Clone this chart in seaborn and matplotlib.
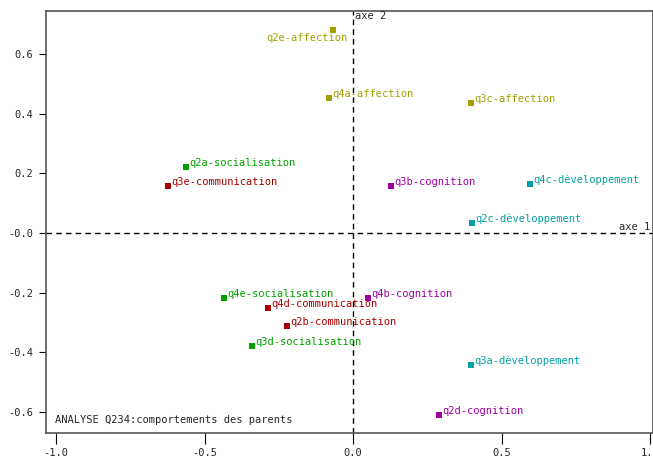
import matplotlib
matplotlib.use("Agg")
import matplotlib.pyplot as plt
import seaborn as sns
import pandas as pd

labels = ["q2e-affection", "q4a-affection", "q3c-affection",
          "q2a-socialisation", "q3e-communication", "q3b-cognition",
          "q4c-dèveloppement", "q2c-dèveloppement", "q4e-socialisation",
          "q4d-communication", "q2b-communication", "q3d-socialisation",
          "q4b-cognition", "q3a-dèveloppement", "q2d-cognition"]
axe1 = [-0.067, -0.081, 0.397, -0.562, -0.623, 0.128, 0.596, 0.401,
        -0.434, -0.286, -0.222, -0.340, 0.051, 0.397, 0.290]
axe2 = [0.682, 0.454, 0.437, 0.222, 0.158, 0.158, 0.165, 0.034,
        -0.218, -0.252, -0.313, -0.380, -0.219, -0.444, -0.612]
groups = [l.split("-", 1)[1] for l in labels]
palette = {"affection": "#a0a000", "socialisation": "#00a000",
           "communication": "#a80000", "cognition": "#a000a0",
           "dèveloppement": "#00a0a0"}
xticks = [-1.0, -0.5, 0.0, 0.5, 1.0]
xticklabels = ["-1.0", "-0.5", "0.0", "0.5", "1.0"]
yticks = [0.6, 0.4, 0.2, 0.0, -0.2, -0.4, -0.6]
yticklabels = ["0.6", "0.4", "0.2", "-0.0", "-0.2", "-0.4", "-0.6"]

df = pd.DataFrame({"axe1": axe1, "axe2": axe2, "label": labels, "group": groups})

sns.set_style("white")
plt.rcParams['font.family'] = ['DejaVu Sans Mono']
FS = 7.5
fig = plt.figure(figsize=(6.53, 4.59), dpi=100)
W, H = 653, 459
ax = fig.add_axes([46 / W, (H - 433) / H, (653 - 46) / W, (433 - 11) / H])
sns.scatterplot(data=df, x="axe1", y="axe2", hue="group", palette=palette,
                marker="s", s=16, linewidth=0, legend=False, ax=ax)
ax.set_xlim(-1.034, 1.01)
ax.set_ylim(-0.672, 0.746)
ax.axhline(0, color="black", ls=(0, (4, 3)), lw=1)
ax.axvline(0, color="black", ls=(0, (4, 3)), lw=1)

for _, r in df.iterrows():
    c = palette[r["group"]]
    if r["label"] == "q2e-affection":
        ax.annotate(r["label"], (r["axe1"], r["axe2"]), xytext=(14, -3),
                    textcoords="offset pixels", ha="right", va="top",
                    color=c, fontsize=FS)
    else:
        ax.annotate(r["label"], (r["axe1"], r["axe2"]), xytext=(3, -1),
                    textcoords="offset pixels", ha="left", va="bottom",
                    color=c, fontsize=FS)

ax.text(0.008, 0.745, "axe 2", fontsize=FS, ha="left", va="top")
ax.text(1.0, 0.005, "axe 1", fontsize=FS, ha="right", va="bottom")
ax.text(0.015, 0.02, "ANALYSE Q234:comportements des parents", transform=ax.transAxes,
        fontsize=FS, ha="left", va="bottom")

ax.set_xticks(xticks)
ax.set_xticklabels(xticklabels)
ax.set_yticks(yticks)
ax.set_yticklabels(yticklabels)
ax.set_xlabel("")
ax.set_ylabel("")
ax.tick_params(axis="both", labelsize=FS, direction="out", color="black")
ax.tick_params(axis="x", length=8, pad=3, bottom=True)
ax.tick_params(axis="y", length=5, pad=4, left=True)
for sp in ax.spines.values():
    sp.set_color("#555555")
    sp.set_linewidth(1.2)
fig.savefig("out.png", dpi=100)
